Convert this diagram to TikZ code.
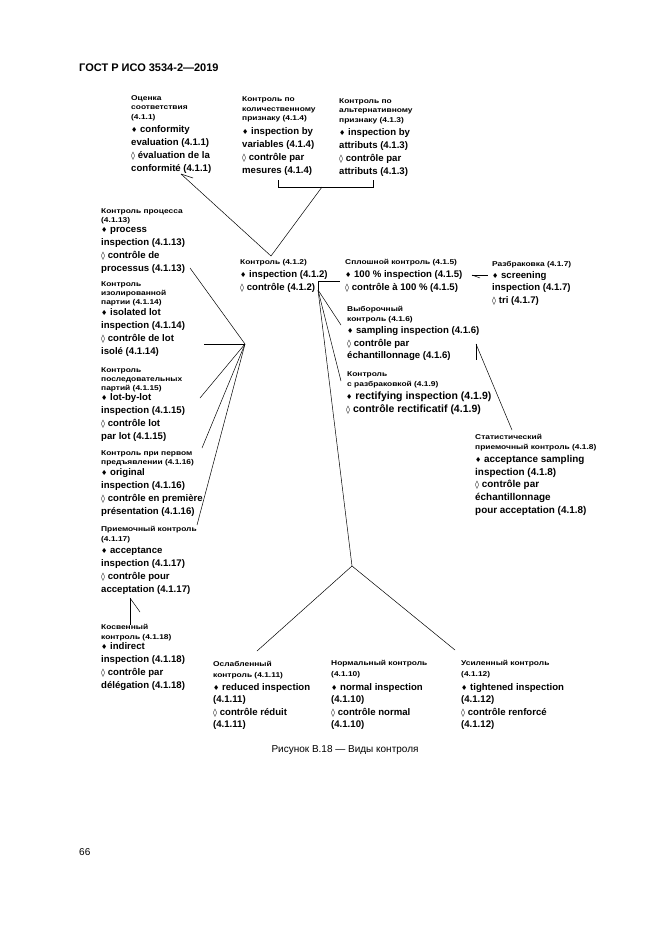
\documentclass[tikz,border=0pt]{standalone}
\usepackage{fontspec}
\setmainfont{Liberation Sans}
\newfontfamily\rufont[FakeStretch=1.2]{Liberation Sans}
\newfontfamily\symfont{DejaVu Sans}
\newcommand\fd{{\symfont\fontsize{7}{7}\selectfont ♦}}
\newcommand\ld{{\symfont\bfseries\fontsize{8}{8}\selectfont ◊}}
\begin{document}
\begin{tikzpicture}[x=1pt,y=-1pt,
  en/.style={anchor=base west, inner sep=0pt, font=\bfseries\fontsize{9.6}{11}\selectfont},
  enl/.style={anchor=base west, inner sep=0pt, font=\bfseries\fontsize{10.5}{12}\selectfont},
  eno/.style={anchor=base west, inner sep=0pt, font=\bfseries\fontsize{9.9}{11}\selectfont},
  ru/.style={anchor=base west, inner sep=0pt, font=\rufont\bfseries\fontsize{7}{8}\selectfont},
  ln/.style={line width=0.5pt, draw=black}]
\useasboundingbox (0,0) rectangle (661,935);
\fill[white] (0,0) rectangle (661,935);

% header, caption, page number
\node[anchor=base west, inner sep=0pt, font=\bfseries\fontsize{11}{13}\selectfont] (hdr) at (79,71) {ГОСТ Р ИСО 3534-2—2019};
\node[anchor=base, inner sep=0pt, font=\fontsize{10}{12}\selectfont] (cap) at (345,752) {Рисунок В.18 — Виды контроля};
\node[anchor=base west, inner sep=0pt, font=\fontsize{10}{12}\selectfont] (pg) at (79,855) {66};

% A
\node[ru] (a1) at (131,100) {Оценка};
\node[ru] (a2) at (131,109.5) {соответствия};
\node[ru] (a3) at (131,119) {(4.1.1)};
\node[en] (a4) at (131,132) {\fd\ conformity};
\node[en] (a5) at (131,145) {evaluation (4.1.1)};
\node[en] (a6) at (131,158) {\ld\ évaluation de la};
\node[en] (a7) at (131,171) {conformité (4.1.1)};
% B
\node[ru] (b1) at (242,101.5) {Контроль по};
\node[ru] (b2) at (242,111) {количественному};
\node[ru] (b3) at (242,120.5) {признаку (4.1.4)};
\node[en] (b4) at (242,134.5) {\fd\ inspection by};
\node[en] (b5) at (242,147.5) {variables (4.1.4)};
\node[en] (b6) at (242,160.5) {\ld\ contrôle par};
\node[en] (b7) at (242,173.5) {mesures (4.1.4)};
% C
\node[ru] (c1) at (339,103) {Контроль по};
\node[ru] (c2) at (339,112.5) {альтернативному};
\node[ru] (c3) at (339,122) {признаку (4.1.3)};
\node[en] (c4) at (339,135.5) {\fd\ inspection by};
\node[en] (c5) at (339,148.5) {attributs (4.1.3)};
\node[en] (c6) at (339,161.5) {\ld\ contrôle par};
\node[en] (c7) at (339,174.5) {attributs (4.1.3)};
% D
\node[ru] (d1) at (101,213) {Контроль процесса};
\node[ru] (d2) at (101,222) {(4.1.13)};
\node[en] (d3) at (101,232.5) {\fd\ process};
\node[en] (d4) at (101,245.5) {inspection (4.1.13)};
\node[en] (d5) at (101,258.5) {\ld\ contrôle de};
\node[en] (d6) at (101,271.5) {processus (4.1.13)};
% E
\node[ru] (e1) at (101,286.5) {Контроль};
\node[ru] (e2) at (101,295.5) {изолированной};
\node[ru] (e3) at (101,304.5) {партии (4.1.14)};
\node[en] (e4) at (101,315) {\fd\ isolated lot};
\node[en] (e5) at (101,328) {inspection (4.1.14)};
\node[en] (e6) at (101,341) {\ld\ contrôle de lot};
\node[en] (e7) at (101,354) {isolé (4.1.14)};
% F
\node[ru] (f1) at (101,372.5) {Контроль};
\node[ru] (f2) at (101,381.5) {последовательных};
\node[ru] (f3) at (101,390.5) {партий (4.1.15)};
\node[en] (f4) at (101,400.5) {\fd\ lot-by-lot};
\node[en] (f5) at (101,413.5) {inspection (4.1.15)};
\node[en] (f6) at (101,426.5) {\ld\ contrôle lot};
\node[en] (f7) at (101,439.5) {par lot (4.1.15)};
% G
\node[ru] (g1) at (101,455.5) {Контроль при первом};
\node[ru] (g2) at (101,464.5) {предъявлении (4.1.16)};
\node[en] (g3) at (101,475.5) {\fd\ original};
\node[en] (g4) at (101,488.5) {inspection (4.1.16)};
\node[en] (g5) at (101,501.5) {\ld\ contrôle en première};
\node[en] (g6) at (101,514.5) {présentation (4.1.16)};
% H
\node[ru] (h1) at (101,531.5) {Приемочный контроль};
\node[ru] (h2) at (101,541) {(4.1.17)};
\node[en] (h3) at (101,553.5) {\fd\ acceptance};
\node[en] (h4) at (101,566.5) {inspection (4.1.17)};
\node[en] (h5) at (101,579.5) {\ld\ contrôle pour};
\node[en] (h6) at (101,592.5) {acceptation (4.1.17)};
% I
\node[ru] (i1) at (101,629.5) {Косвенный};
\node[ru] (i2) at (101,639) {контроль (4.1.18)};
\node[en] (i3) at (101,649.5) {\fd\ indirect};
\node[en] (i4) at (101,662.5) {inspection (4.1.18)};
\node[en] (i5) at (101,675.5) {\ld\ contrôle par};
\node[en] (i6) at (101,688.5) {délégation (4.1.18)};
% J
\node[ru] (j1) at (240,264.5) {Контроль (4.1.2)};
\node[en] (j2) at (240,277.5) {\fd\ inspection (4.1.2)};
\node[en] (j3) at (240,290.5) {\ld\ contrôle (4.1.2)};
% K
\node[ru] (k1) at (345,264.5) {Сплошной контроль (4.1.5)};
\node[en] (k2) at (345,277.5) {\fd\ 100 \% inspection (4.1.5)};
\node[en] (k3) at (345,290.5) {\ld\ contrôle à 100 \% (4.1.5)};
% L
\node[ru] (l1) at (492,266.5) {Разбраковка (4.1.7)};
\node[en] (l2) at (492,278.5) {\fd\ screening};
\node[en] (l3) at (492,290.5) {inspection (4.1.7)};
\node[en] (l4) at (492,303.5) {\ld\ tri (4.1.7)};
% M
\node[ru] (m1) at (347,311.5) {Выборочный};
\node[ru] (m2) at (347,321.5) {контроль (4.1.6)};
\node[en] (m3) at (347,333.5) {\fd\ sampling inspection (4.1.6)};
\node[en] (m4) at (347,346.5) {\ld\ contrôle par};
\node[en] (m5) at (347,358.5) {échantillonnage (4.1.6)};
% N
\node[ru] (n1) at (347,376.5) {Контроль};
\node[ru] (n2) at (347,386.5) {с разбраковкой (4.1.9)};
\node[enl] (n3) at (346,399.5) {\fd\ rectifying inspection (4.1.9)};
\node[enl] (n4) at (346,412.5) {\ld\ contrôle rectificatif (4.1.9)};
% O
\node[ru] (o1) at (475,439.5) {Статистический};
\node[ru] (o2) at (475,449.5) {приемочный контроль (4.1.8)};
\node[eno] (o3) at (475,462.5) {\fd\ acceptance sampling};
\node[eno] (o4) at (475,475.5) {inspection (4.1.8)};
\node[eno] (o5) at (475,487.5) {\ld\ contrôle par};
\node[eno] (o6) at (475,500.5) {échantillonnage};
\node[eno] (o7) at (475,513.5) {pour acceptation (4.1.8)};
% P
\node[ru] (p1) at (213,666.5) {Ослабленный};
\node[ru] (p2) at (213,677.5) {контроль (4.1.11)};
\node[en] (p3) at (213,690.5) {\fd\ reduced inspection};
\node[en] (p4) at (213,702.5) {(4.1.11)};
\node[en] (p5) at (213,715.5) {\ld\ contrôle réduit};
\node[en] (p6) at (213,727.5) {(4.1.11)};
% Q
\node[ru] (q1) at (331,665.5) {Нормальный контроль};
\node[ru] (q2) at (331,676.5) {(4.1.10)};
\node[en] (q3) at (331,690.5) {\fd\ normal inspection};
\node[en] (q4) at (331,702.5) {(4.1.10)};
\node[en] (q5) at (331,715.5) {\ld\ contrôle normal};
\node[en] (q6) at (331,727.5) {(4.1.10)};
% R
\node[ru] (r1) at (461,665.5) {Усиленный контроль};
\node[ru] (r2) at (461,676.5) {(4.1.12)};
\node[en] (r3) at (461,690.5) {\fd\ tightened inspection};
\node[en] (r4) at (461,702.5) {(4.1.12)};
\node[en] (r5) at (461,715.5) {\ld\ contrôle renforcé};
\node[en] (r6) at (461,727.5) {(4.1.12)};

% connector points
\coordinate (Jtop) at (271,256);
\coordinate (Astart) at (181,174);
\coordinate (Awedge) at (193,178);
\coordinate (BrL) at (278,180);
\coordinate (BrLb) at (278,187);
\coordinate (BrR) at (373,180);
\coordinate (BrRb) at (373,187);
\coordinate (BrM) at (322,187);
\coordinate (LF) at (245,344);
\coordinate (Dend) at (190,268);
\coordinate (Eend) at (204,344);
\coordinate (Fend) at (200,398);
\coordinate (Gend) at (202,448);
\coordinate (Hend) at (197,525);
\coordinate (HI1) at (130,598);
\coordinate (HI2) at (130,625);
\coordinate (HIw) at (140,612);
\coordinate (JK1) at (318,281);
\coordinate (JK2) at (340,281);
\coordinate (JF) at (318,290);
\coordinate (KL1) at (472,275);
\coordinate (KL2) at (488,275);
\coordinate (KLw) at (480,278);
\coordinate (Mend) at (341,325);
\coordinate (Nend) at (341,381);
\coordinate (BF) at (352,566);
\coordinate (MO1) at (476,344);
\coordinate (MOt) at (476,360);
\coordinate (Oend) at (512,430);
\coordinate (Pend) at (257,651);
\coordinate (Rend) at (455,650);

\draw[ln] (Astart) -- (Jtop);
\draw[ln] (Astart) -- (Awedge);
\draw[ln] (BrL) -- (BrLb) -- (BrRb) -- (BrR);
\draw[ln] (BrM) -- (Jtop);
\draw[ln] (LF) -- (Dend);
\draw[ln] (LF) -- (Eend);
\draw[ln] (LF) -- (Fend);
\draw[ln] (LF) -- (Gend);
\draw[ln] (LF) -- (Hend);
\draw[ln] (HI1) -- (HI2);
\draw[ln] (HI1) -- (HIw);
\draw[ln] (JF) -- (JK1) -- (JK2);
\draw[ln] (KL1) -- (KL2);
\draw[ln] (KL1) -- (KLw);
\draw[ln] (JF) -- (Mend);
\draw[ln] (JF) -- (Nend);
\draw[ln] (JF) -- (BF);
\draw[ln] (MO1) -- (MOt);
\draw[ln] (MO1) -- (Oend);
\draw[ln] (BF) -- (Pend);
\draw[ln] (BF) -- (Rend);
\end{tikzpicture}
\end{document}
